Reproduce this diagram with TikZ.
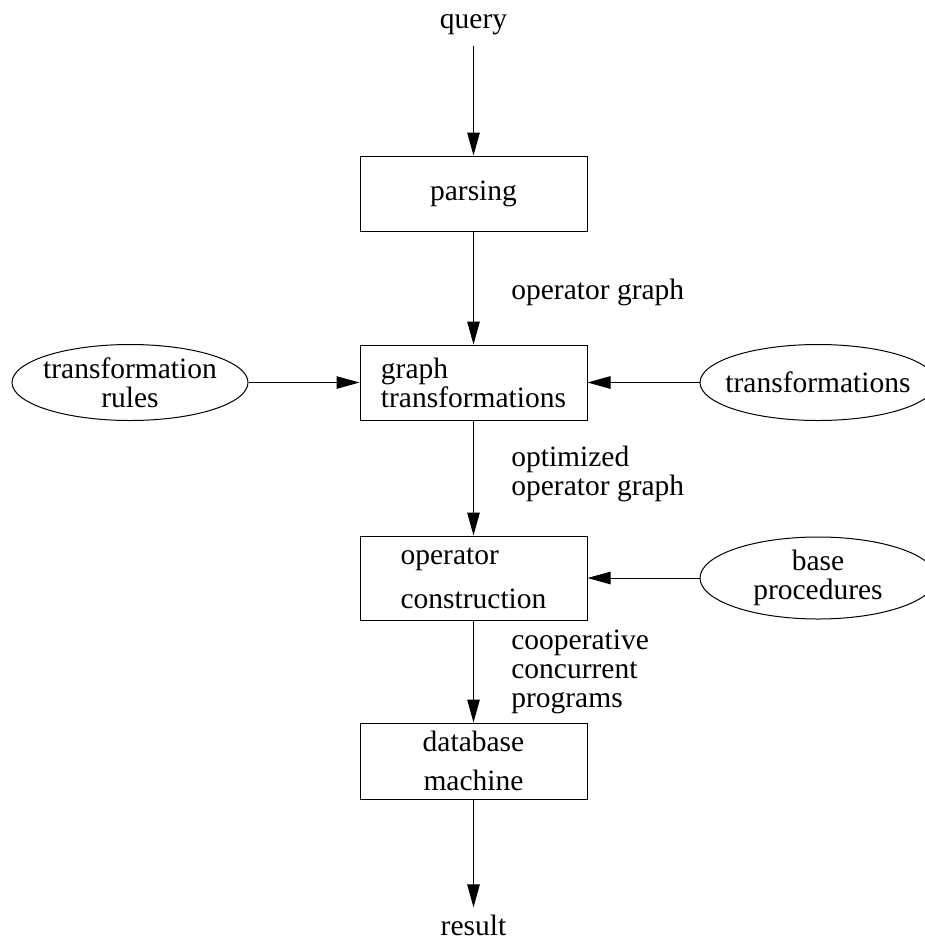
\documentclass[tikz,border=0pt]{standalone}
\usepackage{fontspec}
\setmainfont{Liberation Serif}
\usetikzlibrary{arrows.meta, shapes.geometric}

\begin{document}
\begin{tikzpicture}[x=1pt, y=-1pt,
    every node/.style={font=\fontsize{29.5pt}{29pt}\selectfont},
    stage/.style={draw, line width=1pt, rectangle, minimum width=227pt},
    source/.style={draw, line width=1pt, ellipse, minimum width=236pt, minimum height=76pt,
        inner xsep=-10pt, inner ysep=-2pt, align=center},
    flow/.style={line width=1pt, -{Triangle[length=23pt,width=12.5pt]}},
    lbl/.style={anchor=west, align=left, xshift=34pt}]
        \useasboundingbox (0,0) rectangle (924,945);

        % Pipeline
        \node[anchor=base, inner sep=11pt] (query) at (473.5,28) {query};
        \node[stage, minimum height=75pt] (parse) at (473.5,193.5) {parsing};
        \node[stage, minimum height=75pt, align=left] (graph) at (473.5,382.5) {graph\\transformations};
        \node[stage, minimum height=84pt, align=left] (opcon) at (473.5,578) {operator\\[15pt]construction};
        \node[stage, minimum height=76pt, align=center] (dbm) at (473.5,761) {database\\[10pt]machine};
        \node[anchor=base, inner sep=7pt] (result) at (473.5,935) {result};

        % Side inputs
        \node[source] (rules) at (130,382.5) {transformation\\rules};
        \node[source] (trans) at (818,382.5) {transformations};
        \node[source, minimum height=82pt] (base) at (818,578) {base\\procedures};

        % Connectors
        \draw[flow] (query) -- (parse);
        \draw[flow] (parse) -- node[lbl, yshift=-4pt] {operator graph} (graph);
        \draw[flow] (graph) -- node[lbl, yshift=4pt] {optimized\\operator graph} (opcon);
        \draw[flow] (opcon) -- node[lbl] {cooperative\\concurrent\\programs} (dbm);
        \draw[flow] (dbm) -- (result);
        \draw[flow] (rules) -- (graph);
        \draw[flow] (trans) -- (graph);
        \draw[flow] (base) -- (opcon);
    \end{tikzpicture}
\end{document}
